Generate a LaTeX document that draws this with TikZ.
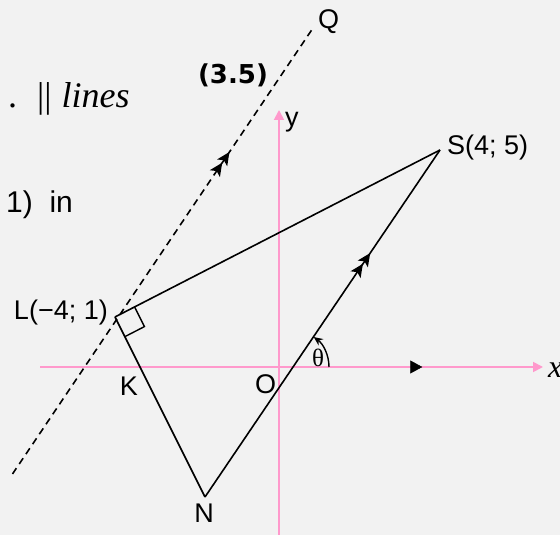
\documentclass[tikz,border=0pt]{standalone}
\usepackage{fontspec}
\setmainfont{Liberation Sans}
\newfontfamily\seriffont{Liberation Serif}
\newfontfamily\heavyfont{DejaVu Sans}
\usepackage{tikz}
\usetikzlibrary{arrows.meta,calc,decorations.markings}
\definecolor{axispink}{RGB}{255,153,204}
\definecolor{paper}{RGB}{242,242,242}

\begin{document}
\begin{tikzpicture}[
    x=1pt, y=1pt,
    lbl/.style={inner sep=0pt, font=\fontsize{27}{30}\selectfont},
    axis/.style={axispink, line width=1.8pt, -{Triangle[length=10pt, width=10pt]}},
    side/.style={line width=1.6pt},
    midarr/.style={postaction={decorate}, decoration={markings,
        mark=at position #1 with {\arrow{Stealth[length=13pt, width=12pt, inset=3pt] Stealth[length=13pt, width=12pt, inset=3pt]}}}},
    axisarr/.style={decoration={markings,
        mark=at position #1 with {\arrow{Triangle[length=12pt, width=13pt]}}}, decorate},
]
    \fill[paper] (0,0) rectangle (560,535);
    \useasboundingbox (0,0) rectangle (560,535);

    \coordinate (O) at (279,168);
    \coordinate (xs) at (40,168);
    \coordinate (xe) at (543,168);
    \coordinate (ys) at (279,0);
    \coordinate (ye) at (279,425);
    \coordinate (L) at (115,218);
    \coordinate (S) at (440,385);
    \coordinate (N) at (205,38);
    \coordinate (P) at (12.5,61);
    \coordinate (Q) at (313,507);
    \coordinate (T) at (292,168);

    \draw[axis] (xs) -- (xe);
    \path[axisarr=0.76] (xs) -- (xe);
    \draw[axis] (ys) -- (ye);

    \draw[side, dash pattern=on 7pt off 5pt, midarr=0.722] (P) -- (Q);
    \draw[side] (L) -- (S);
    \draw[side] (L) -- (N);
    \draw[side, midarr=0.703] (N) -- (S);

    \coordinate (ra) at ($(L)!22pt!(S)$);
    \coordinate (rb) at ($(L)!22pt!(N)$);
    \coordinate (rc) at ($(ra)+(rb)-(L)$);
    \draw[line width=1.4pt] (ra) -- (rc) -- (rb);

    \draw[line width=1.4pt, -{Stealth[length=9pt, width=8pt]}] ($(T)+(37,0)$) arc[start angle=0, end angle=54, radius=37];

    \node[lbl, anchor=east] (Llbl) at (108,222) {L(−4; 1)};
    \node[lbl, anchor=west] (Slbl) at (447,387) {S(4; 5)};
    \node[lbl, anchor=west] (Qlbl) at (318,513) {Q};
    \node[lbl] (Nlbl) at (204,22) {N};
    \node[lbl] (Klbl) at (129,149) {K};
    \node[lbl] (Olbl) at (265.5,151) {O};
    \node[lbl, anchor=west] (ylbl) at (285,413) {y};
    \node[lbl, font=\seriffont\fontsize{25}{28}\selectfont] (thlbl) at (318,177) {θ};
    \node[lbl, anchor=west, font=\seriffont\itshape\fontsize{32}{36}\selectfont] (xlbl) at (548,165) {x};
    \node[lbl, font=\heavyfont\bfseries\fontsize{26}{30}\selectfont] (num) at (233,460) {(3.5)};
    \node[lbl, anchor=west, font=\seriffont\fontsize{36}{40}\selectfont] (par) at (8,436) {.\hspace{20pt}||\hspace{10pt}\textit{lines}};
    \node[lbl, anchor=west, font=\fontsize{30}{34}\selectfont] (frag) at (6,330) {1)\ \ in};
\end{tikzpicture}
\end{document}
